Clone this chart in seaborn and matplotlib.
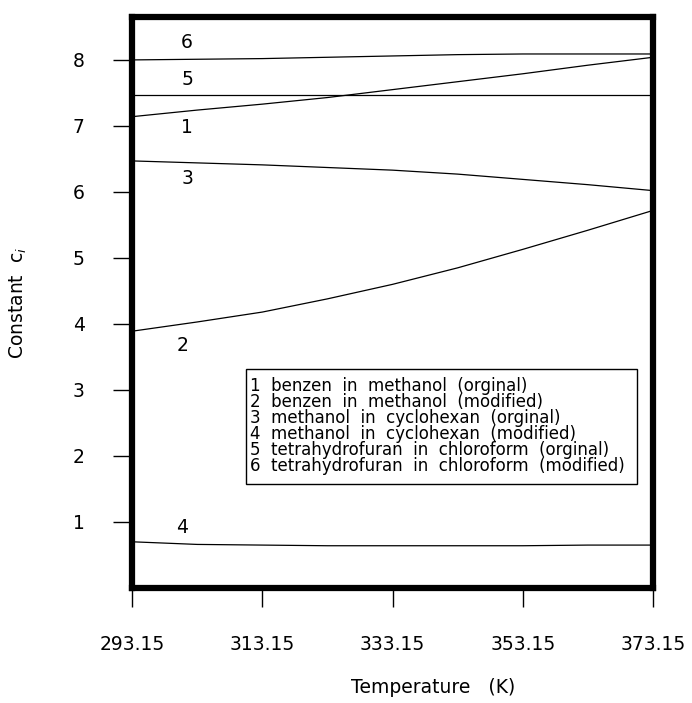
import numpy as np
import pandas as pd
import matplotlib
matplotlib.use("Agg")
import matplotlib.pyplot as plt
from matplotlib.patches import Rectangle
import seaborn as sns

temperature = [293.15, 303.15, 313.15, 323.15, 333.15, 343.15, 353.15, 363.15, 373.15]
c1 = [7.14, 7.24, 7.33, 7.43, 7.55, 7.67, 7.79, 7.92, 8.04]
c2 = [3.89, 4.03, 4.18, 4.38, 4.60, 4.85, 5.13, 5.42, 5.72]
c3 = [6.47, 6.44, 6.41, 6.37, 6.33, 6.27, 6.19, 6.11, 6.02]
c4 = [0.70, 0.66, 0.65, 0.64, 0.64, 0.64, 0.64, 0.65, 0.65]
c5 = [7.47, 7.47, 7.47, 7.47, 7.47, 7.47, 7.47, 7.47, 7.47]
c6 = [8.00, 8.01, 8.02, 8.04, 8.06, 8.08, 8.09, 8.09, 8.09]
series_ids = ["1", "2", "3", "4", "5", "6"]
legend_lines = [
    "1  benzen  in  methanol  (orginal)",
    "2  benzen  in  methanol  (modified)",
    "3  methanol  in  cyclohexan  (orginal)",
    "4  methanol  in  cyclohexan  (modified)",
    "5  tetrahydrofuran  in  chloroform  (orginal)",
    "6  tetrahydrofuran  in  chloroform  (modified)",
]
# curve number labels (T, c)
label_T = [301.6, 300.9, 301.6, 300.9, 301.6, 301.6]
label_c = [6.97, 3.68, 6.21, 0.91, 7.71, 8.26]
x_ticks = [293.15, 313.15, 333.15, 353.15, 373.15]
y_ticks = [1, 2, 3, 4, 5, 6, 7, 8]

rows = []
for sid, vals in zip(series_ids, [c1, c2, c3, c4, c5, c6]):
    for t, v in zip(temperature, vals):
        rows.append({"T": t, "c": v, "series": sid})
df = pd.DataFrame(rows)

sns.set_style("white")
plt.rcParams["font.family"] = ["DejaVu Sans"]

fig = plt.figure(figsize=(6.92, 7.03), dpi=100)
ax = fig.add_axes([0.1908, 0.1636, 0.7529, 0.8122])

sns.lineplot(data=df, x="T", y="c", units="series", estimator=None,
             color="black", linewidth=0.9, ax=ax, legend=False)

ax.set_xlim(293.15, 373.15)
ax.set_ylim(0, 8.65)
ax.set_xticks(x_ticks)
ax.set_xticklabels([f"{t:.2f}" for t in x_ticks])
ax.set_yticks(y_ticks)
ax.set_yticklabels([str(v) for v in y_ticks])
ax.tick_params(axis="both", direction="out", length=14, width=1.0,
               color="black", labelsize=13.5, labelcolor="black",
               bottom=True, left=True)
ax.tick_params(axis="y", pad=20)
ax.tick_params(axis="x", pad=20)

for sp in ax.spines.values():
    sp.set_visible(True)
    sp.set_linewidth(4.5)
    sp.set_color("black")

ax.set_xlabel("Temperature   (K)", fontsize=13.5, color="black")
ax.xaxis.set_label_coords((433 - 132) / 521, -0.158)
ax.set_ylabel("Constant  c$_{i}$", fontsize=13.5, color="black")
ax.yaxis.set_label_coords(-0.198, 0.5)

for sid, t, c in zip(series_ids, label_T, label_c):
    ax.text(t, c, sid, fontsize=13.5, ha="center", va="center", color="black")

ax.add_patch(Rectangle((0.219, 0.182), 0.75, 0.2015, transform=ax.transAxes,
                       fill=False, edgecolor="black", linewidth=1.0, zorder=3))
ax.text(0.226, (588 - 426) / 571, "\n".join(legend_lines), transform=ax.transAxes,
        fontsize=12.0, ha="left", va="center", linespacing=0.87, color="black")

ax.grid(False)
fig.savefig("out.png", dpi=100)
